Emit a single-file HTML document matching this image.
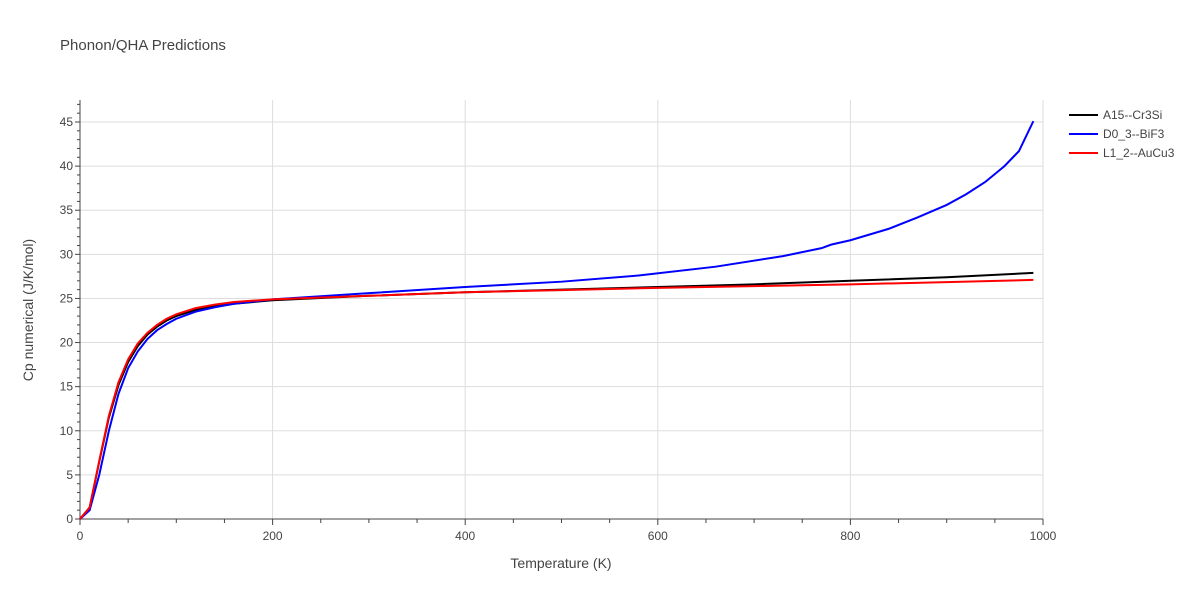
<!DOCTYPE html>
<html><head><meta charset="utf-8"><style>
body{margin:0;background:#fff;font-family:"Liberation Sans",sans-serif}
text{font-family:"Liberation Sans",sans-serif}
</style></head><body>
<svg id="chart" width="1200" height="600">
<text x="60" y="50" font-size="15" fill="#444">Phonon/QHA Predictions</text>
<g id="grid"></g><g id="axes"></g><g id="series"></g><g id="legend"></g>
</svg>
<script>
const T=[0,10,20,30,40,50,60,70,80,90,100,120,140,160,200,300,400,500,600,700,800,900,990];
const cpA15=[0,1.3,6.5,11.5,15.2,17.8,19.6,20.9,21.8,22.5,23.0,23.7,24.1,24.4,24.8,25.3,25.7,26.0,26.3,26.6,27.0,27.4,27.9];
const cpL12=[0,1.3,6.6,11.7,15.5,18.1,19.9,21.1,22.0,22.7,23.2,23.9,24.3,24.6,24.9,25.3,25.7,25.95,26.2,26.4,26.6,26.85,27.1];
const Tb=[0,10,20,30,40,50,60,70,80,90,100,120,140,160,200,300,400,500,580,660,730,770,780,800,840,870,900,920,940,960,975,990];
const cpD03=[0,1.0,5,10,14.2,17.1,19.0,20.4,21.4,22.1,22.7,23.5,24.0,24.4,24.9,25.6,26.3,26.9,27.6,28.6,29.8,30.7,31.1,31.6,32.9,34.2,35.6,36.8,38.2,40.0,41.7,45.1];
const xTicks=[0,200,400,600,800,1000];
const yTicks=[0,5,10,15,20,25,30,35,40,45];
const names=["A15--Cr3Si","D0_3--BiF3","L1_2--AuCu3"];
const colors=["#000000","#0000ff","#ff0000"];
const X0=80,X1=1043,Y0=519,YP=8.822;
const sx=v=>X0+(X1-X0)*v/1000, sy=v=>Y0-v*YP;
const NS="http://www.w3.org/2000/svg";
function mk(p,t,a){const e=document.createElementNS(NS,t);for(const k in a)e.setAttribute(k,a[k]);p.appendChild(e);return e;}
const g=document.getElementById('grid'),ax=document.getElementById('axes'),se=document.getElementById('series'),lg=document.getElementById('legend');
yTicks.forEach(v=>{const l=mk(g,'line',{x1:X0,x2:X1,y1:sy(v),y2:sy(v),stroke:'#ddd'});


const t=mk(ax,'text',{x:X0-7,y:sy(v)+4,'text-anchor':'end','font-size':12,fill:'#444'});t.textContent=v;

});
xTicks.forEach(v=>{const l=mk(g,'line',{x1:sx(v),x2:sx(v),y1:100,y2:Y0,stroke:'#ddd'});


const t=mk(ax,'text',{x:sx(v),y:Y0+21,'text-anchor':'middle','font-size':12,fill:'#444'});t.textContent=v;

});
for(let v=0;v<=47;v++){mk(ax,'line',{x1:X0-(v%5?3:5),x2:X0,y1:sy(v),y2:sy(v),stroke:'#444'});}
for(let v=0;v<=1000;v+=50){mk(ax,'line',{x1:sx(v),x2:sx(v),y1:Y0,y2:Y0+(v%200?4:6),stroke:'#444'});}
mk(ax,'line',{x1:X0,x2:X0,y1:100,y2:Y0,stroke:'#444'});
mk(ax,'line',{x1:X0,x2:X1,y1:Y0,y2:Y0,stroke:'#444'});
const xt=mk(ax,'text',{x:561,y:568,'text-anchor':'middle','font-size':14,fill:'#444'});xt.textContent='Temperature (K)';


const yt=mk(ax,'text',{x:33,y:310,'text-anchor':'middle','font-size':14,fill:'#444',transform:'rotate(-90 33 310)'});yt.textContent='Cp numerical (J/K/mol)';


const sets=[[T,cpA15],[Tb,cpD03],[T,cpL12]];
[0,1,2].forEach(i=>{const[xs,ys]=sets[i];
const p=mk(se,'polyline',{points:xs.map((x,j)=>sx(x)+','+sy(ys[j])).join(' '),fill:'none',stroke:colors[i],'stroke-width':2});


const y=115+i*19;
const l=mk(lg,'line',{x1:1069,x2:1098,y1:y,y2:y,stroke:colors[i],'stroke-width':2});


const t=mk(lg,'text',{x:1103,y:y+4,'font-size':12,fill:'#444'});t.textContent=names[i];

});
</script>
</body></html>
